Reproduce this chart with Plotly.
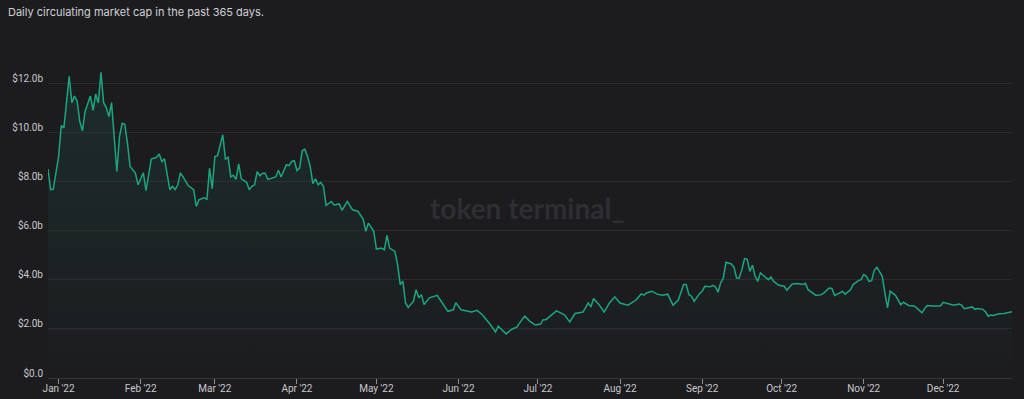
import pandas as pd
import plotly.graph_objects as go

title_text = "Daily circulating market cap in the past 365 days."
watermark = "token terminal_"
base_date = "2022-01-01"

day_offsets = [
    -4, -3, -2, -1, 0, 1, 2, 4, 5, 6, 7, 8, 9, 10, 12, 13, 14, 15, 16, 17, 18, 19, 20,
    22, 23, 24, 25, 26, 27, 29, 30, 32, 33, 35, 37, 38, 39, 40, 42, 43, 44, 45, 46, 47,
    49, 51, 52, 53, 55, 56, 57, 58, 59, 60, 62, 63, 64, 65, 66, 67, 68, 69, 71, 72, 73,
    74, 75, 76, 77, 78, 79, 82, 83, 84, 86, 87, 88, 89, 90, 91, 92, 93, 94, 95, 96, 97,
    98, 99, 100, 101, 103, 104, 106, 107, 109, 111, 113, 115, 116, 117, 119, 120, 122,
    123, 124, 125, 127, 128, 129, 130, 131, 132, 134, 135, 136, 137, 138, 140, 143, 144,
    147, 149, 150, 152, 154, 156, 158, 160, 163, 165, 166, 168, 169, 171, 173, 175, 176,
    178, 180, 182, 183, 184, 186, 188, 191, 193, 195, 198, 200, 201, 202, 204, 206, 208,
    210, 212, 215, 217, 218, 220, 221, 222, 224, 226, 228, 230, 232, 234, 235, 236, 237,
    238, 239, 240, 242, 243, 244, 246, 247, 248, 249, 250, 251, 252, 254, 255, 256, 257,
    258, 259, 260, 261, 262, 263, 264, 265, 266, 268, 269, 270, 272, 274, 275, 277, 279,
    281, 282, 283, 286, 288, 289, 291, 292, 293, 295, 296, 297, 299, 300, 302, 303, 304,
    305, 306, 307, 308, 309, 310, 311, 312, 313, 314, 316, 318, 319, 321, 323, 324, 326,
    327, 328, 330, 332, 333, 334, 336, 338, 340, 341, 342, 344, 345, 346, 347, 349, 350,
    351, 352, 353, 355, 357, 358, 360,
]

market_cap_b = [
    8.52, 7.68, 7.70, 8.36, 9.03, 10.30, 10.20, 12.30, 11.23, 11.50, 11.30, 10.46, 10.08,
    10.87, 11.50, 10.92, 11.58, 11.23, 12.47, 11.23, 11.03, 10.66, 11.23,
    8.42, 9.85, 10.39, 10.35, 9.58, 8.63, 8.36, 7.88, 8.37, 7.64, 8.93, 9.00, 9.14, 8.83,
    8.94, 7.68, 7.82, 7.68, 7.88, 8.37, 8.20,
    7.84, 7.68, 7.00, 7.27, 7.36, 7.27, 8.55, 7.72, 9.03, 9.07, 9.92, 8.93, 9.00, 8.20,
    8.27, 8.10, 8.73, 8.12, 7.98, 7.68, 7.82,
    7.88, 8.42, 8.25, 8.35, 8.35, 8.10, 8.20, 8.47, 8.20, 8.70, 8.66, 8.83, 8.86, 8.46,
    8.56, 9.28, 9.33, 9.03, 8.63, 7.93, 8.12,
    7.88, 7.98, 7.82, 7.04, 7.20, 7.06, 7.10, 6.84, 7.20, 6.86, 6.80, 6.48, 5.98, 6.32,
    5.98, 5.26, 5.30,
    5.23, 5.82, 5.30, 5.16, 4.62, 3.81, 3.95, 3.06, 2.88, 3.13, 3.60, 3.27, 3.40, 3.00,
    3.27, 3.37, 3.20,
    2.72, 2.78, 3.07, 2.78, 2.72, 2.69, 2.76, 2.58, 2.18, 1.88, 2.11, 1.88, 1.80, 1.98,
    2.07, 2.38, 2.52,
    2.31, 2.16, 2.20, 2.38, 2.38, 2.58, 2.74, 2.58, 2.29, 2.63, 2.69, 3.06, 2.90, 3.24,
    3.00, 2.69, 3.06,
    3.31, 3.06, 2.97, 3.10, 3.18, 3.43, 3.38, 3.47, 3.54, 3.42, 3.38, 3.42, 2.97, 3.18,
    3.46, 3.81, 3.81,
    3.40, 3.33, 3.13, 3.44, 3.54, 3.74, 3.72, 3.78, 3.72, 3.50, 3.88, 4.08, 4.72, 4.65,
    4.52, 4.08, 4.08,
    4.42, 4.87, 4.85, 4.35, 4.60, 4.15, 3.94, 4.29, 4.19, 4.01, 4.12, 3.94, 3.78, 3.74,
    3.58, 3.83, 3.85,
    3.81, 3.86, 3.60, 3.37, 3.40, 3.47, 3.67, 3.65, 3.37, 3.47, 3.54, 3.42, 3.60, 3.81,
    3.97, 4.01, 4.22,
    4.15, 3.94, 3.97, 4.39, 4.52, 4.35, 4.15, 3.47, 2.86, 3.54, 3.37, 2.99, 3.09, 2.96,
    2.94, 2.86, 2.66,
    2.83, 2.96, 2.94, 2.96, 2.94, 3.09, 3.04, 2.97, 3.02, 2.97, 2.83, 2.86, 2.90, 2.80,
    2.83, 2.80, 2.70,
    2.52, 2.57, 2.55, 2.62, 2.63, 2.65, 2.70,
]

y_tick_values = [0, 2, 4, 6, 8, 10, 12]
y_tick_labels = ["$0.0", "$2.0b", "$4.0b", "$6.0b", "$8.0b", "$10.0b", "$12.0b"]

dates = pd.Timestamp(base_date) + pd.to_timedelta(day_offsets, unit="D")

line_color = "#1ba680"
bg = "#1c1c1f"

fig = go.Figure()
fig.add_trace(
    go.Scatter(
        x=dates,
        y=market_cap_b,
        mode="lines",
        line=dict(color=line_color, width=1.5),
        fill="tozeroy",
        fillgradient=dict(
            type="vertical",
            colorscale=[[0, "rgba(27,166,128,0.0)"], [1, "rgba(27,166,128,0.12)"]],
        ),
        hoverinfo="skip",
        showlegend=False,
    )
)

fig.update_layout(
    width=1024,
    height=399,
    paper_bgcolor=bg,
    plot_bgcolor=bg,
    margin=dict(l=48, r=12, t=47, b=21),
    font=dict(family="Roboto, Inter, sans-serif", color="#c8c8cc", size=10),
    title=dict(
        text=title_text,
        x=8 / 1024,
        xanchor="left",
        xref="container",
        y=1 - 12 / 399,
        yanchor="middle",
        yref="container",
        font=dict(family="Inter, Roboto, sans-serif", size=11, color="#d0d0d4"),
    ),
    xaxis=dict(
        type="date",
        range=[dates[0], dates[-1]],
        automargin=False,
        showgrid=False,
        zeroline=False,
        showline=True,
        linecolor="#36363b",
        linewidth=1,
        ticks="outside",
        ticklen=5,
        tickcolor="#8a8a90",
        tickwidth=1,
        dtick="M1",
        tick0="2022-01-01",
        tickformat="%b '%y",
        tickfont=dict(size=10, color="#c8c8cc"),
        ticklabelstandoff=-4,
    ),
    yaxis=dict(
        range=[0, 13.5],
        automargin=False,
        showgrid=True,
        gridcolor="#2a2a2f",
        gridwidth=1,
        zeroline=False,
        showline=False,
        tickvals=y_tick_values,
        ticktext=y_tick_labels,
        tickfont=dict(size=10, color="#c8c8cc"),
        ticklabelshift=-5,
        ticklabelstandoff=4,
    ),
    annotations=[
        dict(
            text=watermark,
            xref="paper",
            yref="paper",
            x=0.497,
            y=0.515,
            xanchor="center",
            yanchor="middle",
            showarrow=False,
            font=dict(family="Lato, Inter, sans-serif", size=28, color="#2e2e33", weight="bold"),
        )
    ],
)

fig.write_html(
    "out.html",
    config={"displayModeBar": False},
    post_script="document.body.style.margin='0';document.body.style.overflow='hidden';document.body.style.background='#1c1c1f';",
)
